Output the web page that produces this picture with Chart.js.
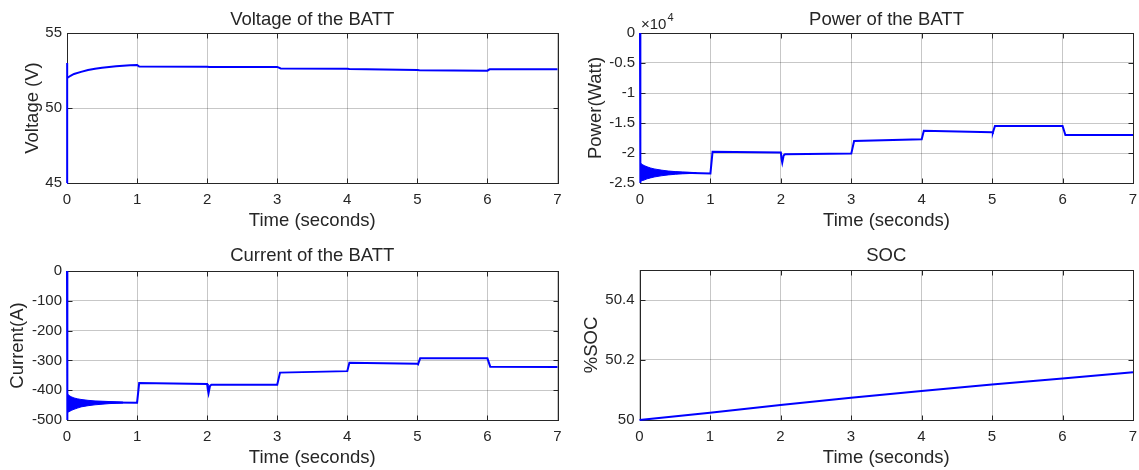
<!DOCTYPE html>
<html>
<head>
<meta charset="utf-8">
<title>BATT results</title>
<script src="https://cdn.jsdelivr.net/npm/chart.js@4.4.1/dist/chart.umd.min.js"></script>
<style>
  body { margin: 0; background: #fff; width: 1139px; height: 470px; overflow: hidden; position: relative; }
  .panel { position: absolute; }
</style>
</head>
<body>
<div class="panel" style="left:0;top:0;width:570px;height:235px"><canvas id="voltageChart"></canvas></div>
<div class="panel" style="left:570px;top:0;width:569px;height:235px"><canvas id="powerChart"></canvas></div>
<div class="panel" style="left:0;top:235px;width:570px;height:235px"><canvas id="currentChart"></canvas></div>
<div class="panel" style="left:570px;top:235px;width:569px;height:235px"><canvas id="socChart"></canvas></div>
<script>
// Time axis (seconds)
const timeTicks = [0, 1, 2, 3, 4, 5, 6, 7];

// Battery voltage (V)
const voltageTime   = [0, 0, 0.005, 0.02, 0.05, 0.1, 0.2, 0.3, 0.4, 0.5, 0.6, 0.7, 0.8, 0.9, 1.0, 1.03, 2.0, 2.03, 3.0, 3.05, 4.0, 4.03, 5.0, 5.03, 6.0, 6.03, 7.0];
const voltageValues = [45, 53, 52.0, 52.05, 52.15, 52.27, 52.41, 52.53, 52.62, 52.69, 52.74, 52.78, 52.82, 52.85, 52.87, 52.76, 52.75, 52.74, 52.74, 52.64, 52.61, 52.6, 52.53, 52.51, 52.49, 52.58, 52.58];
const voltageTicks  = [45, 50, 55];

// Battery power (x10^4 W)
const powerTime   = [0, 0, 0.01, 0.3, 0.6, 1.0, 1.03, 2.0, 2.01, 2.02, 2.04, 2.06, 3.0, 3.04, 4.0, 4.03, 5.0, 5.01, 5.04, 6.0, 6.04, 7.0];
const powerValues = [0, -2.5, -2.3, -2.32, -2.33, -2.34, -1.98, -1.99, -2.1, -2.16, -2.04, -2.02, -2.01, -1.8, -1.77, -1.63, -1.655, -1.66, -1.55, -1.55, -1.70, -1.70];
const powerTicks  = [-2.5, -2, -1.5, -1, -0.5, 0];

// start-up oscillation envelope (shared time base)
const bandTime      = [0.01, 0.03, 0.06, 0.1, 0.15, 0.2, 0.3, 0.4, 0.5, 0.6, 0.7, 0.8];
const powerBandHigh = [-2.17, -2.19, -2.21, -2.23, -2.25, -2.265, -2.285, -2.3, -2.31, -2.317, -2.322, -2.327];
const powerBandLow  = [-2.47, -2.46, -2.45, -2.43, -2.415, -2.4, -2.38, -2.365, -2.355, -2.347, -2.342, -2.338];

// Battery current (A)
const currentTime   = [0, 0, 0.01, 0.3, 0.6, 1.0, 1.03, 2.0, 2.01, 2.02, 2.04, 2.06, 3.0, 3.04, 4.0, 4.03, 5.0, 5.01, 5.04, 6.0, 6.04, 7.0];
const currentValues = [0, -500, -437, -440, -441, -442, -376, -379, -398, -410, -386, -382, -382, -341, -336, -308, -311, -313, -293, -293, -321, -322];
const currentBandHigh = [-413, -418, -422, -426, -429, -431, -434, -436, -437, -438, -439, -440];
const currentBandLow  = [-474, -472, -468, -464, -460, -456, -452, -449, -447, -445, -444, -443];
const currentTicks  = [-500, -400, -300, -200, -100, 0];

// State of charge (%)
const socTime   = [0, 1, 2, 3, 4, 5, 6, 7];
const socValues = [50, 50.024, 50.05, 50.074, 50.097, 50.118, 50.138, 50.159];
const socTicks  = [50, 50.2, 50.4];

const INK = '#262626';
const GRID = 'rgba(0,0,0,0.22)';
const BLUE = '#0000ff';
const FONT = "'Liberation Sans', Arial, Helvetica, sans-serif";

Chart.defaults.font.family = FONT;
Chart.defaults.color = INK;

function points(xs, ys) {
    return xs.map((x, i) => ({ x: x, y: ys[i] }));
}

function lineSet(xs, ys, width) {
    return {
        data: points(xs, ys),
        borderColor: BLUE,
        borderWidth: width,
        pointRadius: 0,
        tension: 0,
        fill: false,
        clip: false
    };
}

// oscillation band drawn as two envelopes filled between
function bandSets(xs, high, low) {
    return [
        { data: points(xs, high), borderColor: BLUE, borderWidth: 1, pointRadius: 0, fill: false, clip: false },
        { data: points(xs, low), borderColor: BLUE, borderWidth: 1, pointRadius: 0, fill: '-1', backgroundColor: BLUE, clip: false }
    ];
}

// MATLAB style box with inward ticks
const boxPlugin = {
    id: 'matlabBox',
    beforeDatasetsDraw(chart) {
        const { ctx, chartArea: a, scales } = chart;
        const L = Math.round(a.left) + 0.5, R = Math.round(a.right) + 0.5;
        const T = Math.round(a.top) + 0.5, B = Math.round(a.bottom) + 0.5;
        ctx.save();
        ctx.strokeStyle = INK;
        ctx.lineWidth = 1;
        ctx.beginPath();
        scales.x.ticks.forEach(t => {
            const px = Math.round(scales.x.getPixelForValue(t.value)) + 0.5;
            ctx.moveTo(px, B); ctx.lineTo(px, B - 5);
            ctx.moveTo(px, T); ctx.lineTo(px, T + 5);
        });
        scales.y.ticks.forEach(t => {
            const py = Math.round(scales.y.getPixelForValue(t.value)) + 0.5;
            ctx.moveTo(L, py); ctx.lineTo(L + 5, py);
            ctx.moveTo(R, py); ctx.lineTo(R - 5, py);
        });
        ctx.stroke();
        ctx.strokeRect(L, T, R - L, B - T);
        ctx.restore();
    }
};

// "x10^4" exponent label on the power axis
const exponentPlugin = {
    id: 'exponent',
    afterDraw(chart) {
        const { ctx, chartArea: a } = chart;
        ctx.save();
        ctx.fillStyle = INK;
        ctx.textBaseline = 'alphabetic';
        ctx.font = '15px ' + FONT;
        ctx.fillText('\u00d710', a.left + 1, a.top - 4);
        const w = ctx.measureText('\u00d710').width;
        ctx.font = '11px ' + FONT;
        ctx.fillText('4', a.left + 2 + w, a.top - 12);
        ctx.restore();
    }
};

function makePanel(canvasId, cfg) {
    return new Chart(document.getElementById(canvasId), {
        type: 'line',
        data: { datasets: cfg.datasets },
        options: {
            responsive: true,
            maintainAspectRatio: false,
            animation: false,
            events: [],
            layout: { padding: { left: 0, top: 0, bottom: 0, right: cfg.padRight } },
            plugins: {
                legend: { display: false },
                tooltip: { enabled: false },
                title: {
                    display: true,
                    text: cfg.title,
                    fullSize: false,
                    color: INK,
                    font: { size: 18.5, weight: 'normal' },
                    padding: cfg.titlePad
                }
            },
            scales: {
                x: {
                    type: 'linear',
                    min: 0,
                    max: 7,
                    afterBuildTicks: s => { s.ticks = timeTicks.map(v => ({ value: v })); },
                    afterFit: s => { s.height = cfg.xHeight; s.paddingLeft = 0; s.paddingRight = 0; },
                    ticks: { font: { size: 15 }, color: INK, padding: 8, maxRotation: 0, autoSkip: false, callback: v => String(v) },
                    grid: { color: GRID, drawTicks: false },
                    border: { display: false },
                    title: { display: true, text: 'Time (seconds)', color: INK, font: { size: 18.5 }, padding: { top: 0, bottom: cfg.xTitleBottom } }
                },
                y: {
                    type: 'linear',
                    min: cfg.yMin,
                    max: cfg.yMax,
                    afterBuildTicks: s => { s.ticks = cfg.yTicks.map(v => ({ value: v })); },
                    afterFit: s => { s.width = cfg.yWidth; },
                    ticks: { font: { size: 15 }, color: INK, padding: 5, autoSkip: false, callback: v => String(v) },
                    grid: { color: GRID, drawTicks: false },
                    border: { display: false },
                    title: { display: true, text: cfg.yLabel, color: INK, font: { size: 18.5 }, padding: { top: cfg.yTitleLeft, bottom: 0 } }
                }
            }
        },
        plugins: [boxPlugin].concat(cfg.extra || [])
    });
}

makePanel('voltageChart', {
    title: 'Voltage of the BATT',
    yLabel: 'Voltage (V)',
    yMin: 45, yMax: 55, yTicks: voltageTicks,
    yWidth: 67, padRight: 12.5,
    titlePad: { top: 8.4, bottom: 2.4 },
    xHeight: 52, xTitleBottom: 2.9, yTitleLeft: 21.9,
    datasets: [lineSet(voltageTime, voltageValues, 2)]
});

makePanel('powerChart', {
    title: 'Power of the BATT',
    yLabel: 'Power(Watt)',
    yMin: -2.5, yMax: 0, yTicks: powerTicks,
    yWidth: 70, padRight: 6,
    titlePad: { top: 8.4, bottom: 2.4 },
    xHeight: 52, xTitleBottom: 2.9, yTitleLeft: 14.9,
    datasets: bandSets(bandTime, powerBandHigh, powerBandLow).concat([lineSet(powerTime, powerValues, 2)]),
    extra: [exponentPlugin]
});

makePanel('currentChart', {
    title: 'Current of the BATT',
    yLabel: 'Current(A)',
    yMin: -500, yMax: 0, yTicks: currentTicks,
    yWidth: 67, padRight: 12.5,
    titlePad: { top: 10.2, bottom: 3.6 },
    xHeight: 50, xTitleBottom: 1.4, yTitleLeft: 6.4,
    datasets: bandSets(bandTime, currentBandHigh, currentBandLow).concat([lineSet(currentTime, currentValues, 2)])
});

makePanel('socChart', {
    title: 'SOC',
    yLabel: '%SOC',
    yMin: 50, yMax: 50.5, yTicks: socTicks,
    yWidth: 69.5, padRight: 6,
    titlePad: { top: 10.2, bottom: 2.6 },
    xHeight: 50, xTitleBottom: 1.4, yTitleLeft: 10.9,
    datasets: [lineSet(socTime, socValues, 2)]
});
</script>
</body>
</html>
